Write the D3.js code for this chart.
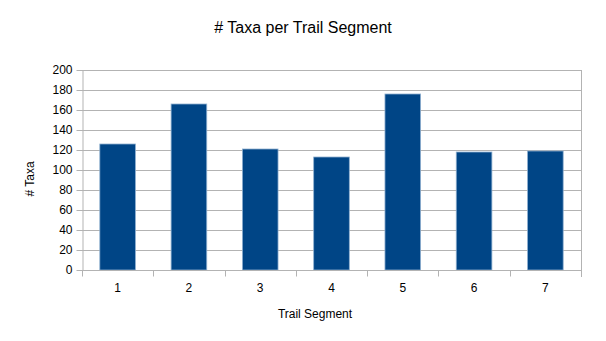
<!DOCTYPE html>
<html>
<head>
<meta charset="utf-8">
<script src="https://cdn.jsdelivr.net/npm/d3@7"></script>
<style>
  html, body { margin: 0; padding: 0; background: #fff; }
  svg { display: block; font-family: "Liberation Sans", Arial, sans-serif; }
</style>
</head>
<body>
<svg id="chart" width="606" height="341"></svg>
<script>
// Number of taxa recorded on each trail segment
const segments = ["1", "2", "3", "4", "5", "6", "7"];
const taxaCounts = [126, 166, 121, 113, 176, 118, 119];
const yTicks = [0, 20, 40, 60, 80, 100, 120, 140, 160, 180, 200];

const svg = d3.select("#chart");
const margin = { left: 82, right: 25, top: 70, bottom: 71 };
const W = 606, H = 341;
const x0 = margin.left, x1 = W - margin.right;
const y0 = H - margin.bottom, y1 = margin.top;

const x = d3.scaleBand().domain(segments).range([x0, x1]).paddingInner(0.5).paddingOuter(0.25);
const xBand = d3.scaleBand().domain(segments).range([x0, x1]);
const y = d3.scaleLinear().domain([0, 200]).range([y0, y1]);

const grid = "#b3b3b3";

// Horizontal grid lines
svg.append("g").selectAll("line").data(yTicks).join("line")
  .attr("x1", x0).attr("x2", x1)
  .attr("y1", d => Math.round(y(d)) + 0.5).attr("y2", d => Math.round(y(d)) + 0.5)
  .attr("stroke", grid).attr("stroke-width", 1);

// Right edge of plot area
svg.append("line")
  .attr("x1", x1 + 0.5).attr("x2", x1 + 0.5)
  .attr("y1", y1).attr("y2", y0 + 7)
  .attr("stroke", grid);

// Bars
svg.append("g").selectAll("rect").data(taxaCounts).join("rect")
  .attr("x", (d, i) => x(segments[i]))
  .attr("width", x.bandwidth())
  .attr("y", d => y(d))
  .attr("height", d => y0 - y(d))
  .attr("fill", "#004586")
  .attr("stroke", "#8fb0d0")
  .attr("stroke-width", 0.8);

// Y axis
const yAxis = svg.append("g").attr("transform", `translate(${x0 + 0.5},0)`)
  .call(d3.axisLeft(y).tickValues(yTicks).tickSize(6).tickSizeOuter(0).tickPadding(4));
yAxis.select(".domain").attr("stroke", grid);
yAxis.selectAll(".tick line").attr("stroke", grid);
yAxis.selectAll("text").attr("font-size", 12).attr("fill", "#000")
  .attr("font-family", "Liberation Sans, Arial, sans-serif");

// X axis: ticks at category boundaries
const xAxisG = svg.append("g").attr("transform", `translate(0,${y0 + 0.5})`);
xAxisG.append("line").attr("x1", x0).attr("x2", x1).attr("stroke", grid);
const bounds = segments.map(s => xBand(s)).concat([x1]);
xAxisG.selectAll("line.tk").data(bounds).join("line").attr("class", "tk")
  .attr("x1", d => Math.round(d) + 0.5).attr("x2", d => Math.round(d) + 0.5)
  .attr("y1", 0).attr("y2", 6).attr("stroke", grid);
xAxisG.selectAll("text").data(segments).join("text")
  .attr("x", d => xBand(d) + xBand.bandwidth() / 2)
  .attr("y", 21)
  .attr("text-anchor", "middle")
  .attr("font-size", 12)
  .attr("fill", "#000")
  .text(d => d);

// Titles
svg.append("text").attr("x", 303).attr("y", 33).attr("text-anchor", "middle")
  .attr("font-size", 16).attr("fill", "#000").text("# Taxa per Trail Segment");
svg.append("text").attr("x", 315).attr("y", 318).attr("text-anchor", "middle")
  .attr("font-size", 12).attr("fill", "#000").text("Trail Segment");
svg.append("text").attr("transform", "translate(34,179) rotate(-90)")
  .attr("text-anchor", "middle").attr("font-size", 12).attr("fill", "#000").text("# Taxa");
</script>
</body>
</html>
